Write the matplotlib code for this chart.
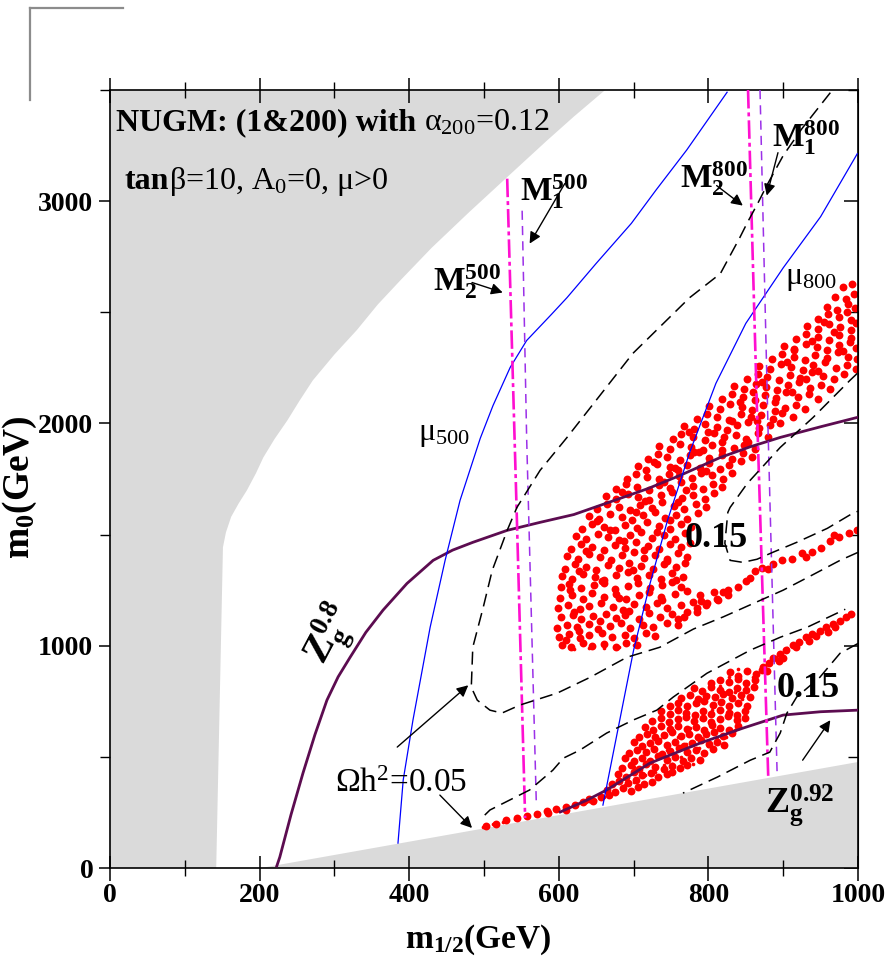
import matplotlib
matplotlib.use("Agg")
import matplotlib.pyplot as plt
from matplotlib.lines import Line2D
from matplotlib.transforms import offset_copy

plt.rcParams['font.family'] = ['Liberation Serif', 'DejaVu Serif']
plt.rcParams['mathtext.fontset'] = 'custom'
plt.rcParams['mathtext.rm'] = 'Liberation Serif'
plt.rcParams['mathtext.it'] = 'Liberation Serif'
plt.rcParams['mathtext.bf'] = 'Liberation Serif:bold'

# excluded regions (grey)
left_gray_x = [0, 142, 151, 155, 162, 172, 183, 195, 205, 220, 237, 253, 271, 300, 330, 358, 388,
               430, 480, 530, 584, 620, 662, 0]
left_gray_y = [0, 0, 1443, 1510, 1580, 1640, 1699, 1775, 1847, 1930, 2013, 2100, 2193, 2310, 2420,
               2535, 2643, 2790, 2950, 3105, 3272, 3380, 3500, 3500]
low_gray_x = [202, 1000, 1000]
low_gray_y = [0, 0, 478]

# Z_g contours
zg8_x = [223, 227, 242, 258, 274, 290, 305, 321, 342, 365, 397, 432, 458, 485, 531, 575, 620, 672,
         720, 762, 816, 856, 896, 950, 999]
zg8_y = [9, 49, 240, 427, 600, 755, 860, 948, 1060, 1160, 1280, 1384, 1430, 1465, 1519, 1555, 1590,
         1651, 1708, 1766, 1847, 1895, 1937, 1985, 2027]
zg92_x = [602, 638, 664, 722, 789, 846, 900, 950, 999]
zg92_y = [252, 306, 351, 472, 562, 629, 688, 703, 710]

# mu contours
mu500_x = [385, 392, 405, 428, 448, 468, 495, 512, 535, 557, 590, 611, 650, 697, 730, 771, 825]
mu500_y = [112, 396, 665, 1083, 1384, 1654, 1933, 2080, 2252, 2373, 2490, 2566, 2720, 2900, 3050,
           3230, 3490]
mu800_x = [659, 680, 700, 722, 745, 775, 810, 850, 900, 950, 999]
mu800_y = [283, 640, 980, 1280, 1560, 1870, 2180, 2450, 2700, 2930, 3213]

# gaugino mass contours
m2_500_x = [531, 544, 555]
m2_500_y = [3101, 1564, 225]
m1_500_x = [551, 557, 570]
m1_500_y = [2957, 1937, 283]
m2_800_x = [853, 866, 880]
m2_800_y = [3500, 1937, 409]
m1_800_x = [869, 880, 892]
m1_800_y = [3500, 1937, 409]

# relic density contours
om05a_x = [963, 925, 900, 878, 866, 852, 842, 816, 775, 699, 655, 611, 575, 544, 531, 511, 499, 485,
           483, 491, 508, 524, 548, 598, 642, 691, 735, 780, 820, 860, 900, 940, 976, 1000]
om05a_y = [3488, 3326, 3205, 3070, 2990, 2903, 2836, 2674, 2566, 2315, 2126, 1937, 1789, 1622, 1519,
           1339, 1173, 993, 813, 755, 710, 697, 733, 787, 858, 948, 993, 1075, 1130, 1190, 1250, 1320,
           1384, 1420]
om05b_x = [501, 508, 561, 592, 606, 628, 664, 699, 731, 753, 798, 856, 896, 932, 983]
om05b_y = [238, 261, 351, 440, 494, 530, 607, 665, 710, 769, 876, 980, 1038, 1083, 1164]
om15a_x = [999, 989, 940, 896, 852, 829, 826, 822, 829, 846, 865, 886, 918, 959, 993, 1000]
om15a_y = [2225, 2193, 2027, 1892, 1730, 1622, 1600, 1461, 1384, 1375, 1389, 1420, 1465, 1528, 1596, 1605]
om15b_x = [1000, 976, 949, 918, 905, 896, 882, 856, 812, 766]
om15b_y = [1010, 966, 858, 769, 697, 607, 521, 485, 409, 337]

# allowed points, upper region (crescent and band)
upper_pts = [
    (604, 1003), (616, 992), (633, 1011), (645, 998), (661, 1008), (677, 996), (690, 1014), (704, 1001),
    (600, 1040), (613, 1052), (629, 1035), (641, 1047), (658, 1058), (671, 1038), (688, 1050), (700, 1033), (717, 1055), (729, 1044),
    (598, 1079), (611, 1093), (624, 1084), (640, 1097), (652, 1076), (669, 1090), (683, 1101), (695, 1081), (712, 1094), (726, 1086), (744, 1103), (759, 1092),
    (603, 1128), (619, 1139), (630, 1121), (646, 1133), (663, 1144), (677, 1126), (689, 1138), (707, 1119), (721, 1147), (735, 1131), (752, 1142), (768, 1128), (785, 1150),
    (599, 1170), (612, 1184), (628, 1166), (641, 1179), (656, 1191), (673, 1173), (686, 1162), (700, 1187), (716, 1176), (731, 1193), (745, 1169), (763, 1183), (779, 1196), (797, 1185), (813, 1204),
    (601, 1216), (617, 1229), (632, 1212), (645, 1238), (660, 1221), (676, 1233), (690, 1208), (707, 1227), (720, 1241), (737, 1219), (755, 1232), (771, 1245), (789, 1226), (808, 1240), (826, 1252),
    (603, 1262), (614, 1276), (630, 1258), (647, 1271), (660, 1283), (675, 1256), (693, 1268), (706, 1281), (722, 1259), (738, 1274), (751, 1287), (764, 1266),
    (604, 1314), (618, 1299), (633, 1322), (648, 1307), (661, 1295), (676, 1318), (692, 1331), (705, 1304), (721, 1316), (737, 1299), (752, 1327), (766, 1311),
    (608, 1345), (621, 1368), (637, 1356), (650, 1341), (666, 1364), (680, 1350), (694, 1374), (710, 1358), (726, 1343), (741, 1366), (757, 1352), (769, 1371),
    (611, 1405), (626, 1390), (640, 1413), (655, 1398), (670, 1386), (685, 1409), (700, 1421), (714, 1395), (729, 1406), (745, 1390), (760, 1417), (772, 1400),
    (616, 1436), (630, 1458), (645, 1446), (660, 1431), (675, 1454), (689, 1440), (703, 1465), (719, 1449), (734, 1434), (748, 1457), (763, 1443), (776, 1462),
    (623, 1495), (637, 1479), (652, 1503), (666, 1488), (681, 1476), (695, 1499), (710, 1511), (724, 1485), (740, 1496), (755, 1480), (769, 1506),
    (631, 1526), (645, 1548), (660, 1536), (675, 1521), (689, 1544), (704, 1530), (718, 1555), (734, 1539), (748, 1524), (763, 1547), (777, 1533),
    (640, 1585), (654, 1569), (669, 1593), (684, 1578), (698, 1566), (713, 1589), (728, 1601), (742, 1575), (757, 1586), (772, 1570), (786, 1595),
    (651, 1616), (665, 1638), (680, 1626), (695, 1611), (709, 1634), (724, 1620), (738, 1645), (754, 1629), (768, 1614), (783, 1637), (797, 1623),
    (663, 1675), (677, 1659), (692, 1683), (706, 1668), (721, 1656), (736, 1679), (751, 1691), (765, 1665), (780, 1676), (795, 1660), (807, 1685),
    (676, 1706), (690, 1728), (705, 1716), (720, 1701), (734, 1724), (749, 1710), (763, 1735), (779, 1719), (793, 1704), (806, 1727), (818, 1713),
    (691, 1752), (703, 1771), (718, 1760), (734, 1748), (747, 1774), (761, 1762), (778, 1753), (790, 1779), (805, 1766), (819, 1750), (831, 1777),
    (706, 1810), (716, 1792), (731, 1818), (748, 1803), (760, 1789), (772, 1813), (789, 1800), (801, 1824), (815, 1795), (828, 1812), (843, 1829),
    (719, 1839), (733, 1862), (745, 1848), (762, 1836), (775, 1858), (787, 1871), (801, 1845), (818, 1857), (831, 1840), (846, 1866), (858, 1851),
    (734, 1900), (748, 1884), (762, 1908), (777, 1893), (793, 1880), (805, 1905), (818, 1917), (834, 1889), (847, 1903), (862, 1886),
    (753, 1929), (764, 1952), (779, 1941), (795, 1926), (808, 1955), (821, 1938), (837, 1947), (850, 1930), (866, 1958), (880, 1939),
    (767, 1990), (781, 1975), (796, 1999), (811, 1983), (825, 1972), (838, 1994), (853, 2006), (868, 1980), (883, 1991), (896, 2004),
    (785, 2021), (798, 2042), (812, 2030), (828, 2016), (843, 2044), (857, 2028), (870, 2039), (886, 2019), (899, 2048), (913, 2031),
    (801, 2080), (815, 2064), (829, 2088), (845, 2073), (858, 2061), (873, 2084), (889, 2096), (902, 2070), (917, 2082), (929, 2066),
    (818, 2110), (831, 2133), (846, 2121), (862, 2106), (876, 2129), (890, 2114), (904, 2140), (920, 2119), (934, 2131), (947, 2109),
    (834, 2170), (848, 2154), (863, 2178), (877, 2162), (892, 2151), (906, 2173), (921, 2185), (936, 2160), (951, 2171), (963, 2155),
    (851, 2200), (866, 2223), (879, 2211), (894, 2197), (909, 2220), (923, 2206), (938, 2231), (953, 2213), (968, 2199), (981, 2224),
    (868, 2260), (882, 2244), (897, 2268), (911, 2253), (926, 2241), (940, 2263), (956, 2276), (970, 2250), (985, 2261), (997, 2246),
    (885, 2291), (899, 2313), (914, 2300), (929, 2286), (943, 2309), (958, 2295), (973, 2320), (987, 2301), (998, 2290),
    (901, 2350), (915, 2334), (930, 2358), (945, 2342), (959, 2331), (974, 2355), (989, 2366), (997, 2339),
    (917, 2381), (931, 2403), (946, 2390), (961, 2376), (975, 2399), (990, 2385),
    (932, 2440), (946, 2424), (961, 2448), (976, 2432), (991, 2421), (997, 2452),
    (946, 2471), (960, 2493), (975, 2480), (990, 2466),
    (958, 2526), (972, 2512), (987, 2537), (996, 2520),
    (969, 2571), (984, 2558), (995, 2582), (980, 2613), (992, 2629),
]
extra_pts = [
    (609, 1025), (627, 1068), (655, 1112), (694, 1157), (738, 1204), (615, 1250), (658, 1293), (699, 1340),
    (744, 1382), (636, 1425), (687, 1469), (731, 1512), (651, 1560), (703, 1603), (760, 1648), (684, 1692),
    (741, 1738), (797, 1785), (727, 1828), (781, 1873), (853, 1918), (774, 1962), (832, 2010), (889, 2055),
    (842, 2098), (912, 2142), (871, 2188), (947, 2236), (905, 2278), (980, 2325), (939, 2370), (968, 2410),
    (985, 2500), (620, 1150), (681, 1215), (757, 1295), (627, 1336), (714, 1430), (668, 1520), (749, 1565),
    (715, 1650), (770, 1700), (755, 1800), (818, 1880), (800, 1960), (865, 2010), (860, 2140), (930, 2200),
    (915, 2330), (955, 2455),
]
# thin tail below the 0.15 curl
tail_pts = [
    (760, 1120), (772, 1150), (785, 1170), (798, 1190), (812, 1210), (826, 1228), (840, 1262), (850, 1290),
    (862, 1335), (872, 1350), (886, 1368), (898, 1385), (912, 1392), (925, 1415), (938, 1420), (950, 1440),
    (962, 1470), (975, 1490), (988, 1505), (998, 1520), (855, 1305), (880, 1345), (930, 1400), (968, 1500),
    (820, 1240), (790, 1200),
]
# lower region: streak, blob and tail
lower_pts = [
    (503, 191), (516, 199), (529, 214), (544, 223), (557, 236), (571, 243), (584, 258), (596, 264),
    (609, 276), (621, 283), (633, 297), (646, 303), (657, 318), (667, 329), (610, 262), (640, 312), (585, 248),
    (664, 352), (675, 341), (686, 360), (697, 347), (706, 364),
    (671, 379), (681, 392), (693, 383), (703, 396), (714, 377), (725, 389),
    (679, 424), (690, 411), (700, 430), (711, 418), (723, 428), (733, 409), (744, 423), (751, 433),
    (685, 449), (696, 462), (707, 447), (717, 466), (729, 455), (740, 444), (751, 460), (762, 451), (772, 464),
    (689, 497), (700, 483), (711, 494), (722, 481), (733, 502), (744, 488), (755, 498), (766, 480), (777, 495), (789, 486),
    (694, 519), (704, 533), (716, 522), (727, 536), (738, 515), (749, 528), (761, 539), (771, 520), (783, 531), (794, 517), (806, 535),
    (700, 566), (711, 551), (722, 563), (733, 572), (745, 555), (756, 567), (767, 549), (778, 561), (790, 574), (801, 556), (812, 568), (821, 553),
    (707, 590), (718, 603), (729, 588), (741, 600), (752, 611), (763, 592), (774, 605), (786, 589), (797, 601), (808, 613), (820, 594), (832, 606),
    (715, 636), (726, 622), (737, 639), (749, 627), (760, 641), (771, 624), (783, 634), (794, 619), (805, 642), (816, 630), (828, 623), (840, 637),
    (725, 660), (736, 673), (747, 658), (759, 670), (770, 681), (781, 662), (793, 675), (804, 659), (815, 672), (826, 684), (838, 664), (849, 676),
    (737, 705), (748, 692), (759, 711), (770, 698), (782, 690), (793, 708), (804, 695), (815, 712), (827, 699), (838, 688), (849, 706),
    (749, 730), (760, 744), (772, 728), (783, 741), (794, 752), (806, 733), (817, 746), (828, 730), (840, 743), (852, 731),
    (763, 765), (775, 779), (786, 762), (797, 776), (809, 768), (820, 781), (831, 763), (843, 777), (855, 769),
    (781, 811), (792, 797), (804, 815), (815, 802), (827, 793), (838, 812), (850, 800), (861, 816),
    (804, 833), (815, 847), (827, 838), (839, 851), (850, 834), (862, 845),
    (829, 880), (840, 866), (852, 884), (864, 871), (872, 889),
    (873, 903), (881, 922), (887, 944), (896, 962), (904, 981), (913, 1002), (921, 1018), (931, 1037),
    (939, 1053), (949, 1065), (957, 1084), (966, 1098), (976, 1112), (984, 1127), (991, 1142),
    (879, 888), (894, 933), (917, 992), (944, 1043), (969, 1083), (960, 1060), (935, 1020), (900, 945),
]
speck_pts = [
    (498, 186), (512, 196), (526, 206), (541, 221), (559, 234), (572, 246), (586, 257), (599, 266),
    (611, 276), (624, 286), (636, 296), (648, 305), (660, 318), (674, 338), (688, 372), (700, 388),
    (715, 420), (728, 430), (741, 462), (752, 470), (764, 498), (777, 505), (788, 540), (799, 548),
    (812, 580), (823, 590), (836, 620), (700, 455), (712, 500), (725, 540), (735, 580), (748, 620),
    (760, 660), (772, 700), (786, 740), (800, 780), (815, 820), (828, 860), (840, 895), (760, 590),
    (775, 630), (790, 670), (805, 710), (820, 750), (835, 790), (850, 830), (745, 530), (770, 560),
    (795, 600), (780, 470), (806, 540), (830, 700), (845, 760), (860, 860), (875, 910), (890, 950),
    (905, 990), (920, 1010), (935, 1045), (955, 1080), (975, 1115), (988, 1135),
    (620, 985), (640, 990), (660, 988), (680, 995), (700, 1005),
]

fig = plt.figure(figsize=(8.88, 9.68), dpi=100)
ax = fig.add_axes([110 / 888, 100 / 968, 748 / 888, 778 / 968])
ax.set_xlim(0, 1000)
ax.set_ylim(0, 3500)
renderer = fig.canvas.get_renderer()

gray = '#dadada'
ax.fill(left_gray_x, left_gray_y, color=gray, lw=0, zorder=1)
ax.fill(low_gray_x, low_gray_y, color=gray, lw=0, zorder=1)

big = upper_pts + extra_pts + tail_pts + lower_pts
bx, by = zip(*big)
sx, sy = zip(*speck_pts)
ax.scatter(bx, by, s=32, c='#ff0000', lw=0, zorder=2)
ax.scatter(sx, sy, s=7, c='#ff0000', lw=0, zorder=2)

zg_col = '#5c0c50'
ax.plot(zg8_x, zg8_y, color=zg_col, lw=2.0, zorder=4)
ax.plot(zg92_x, zg92_y, color=zg_col, lw=2.0, zorder=4)
ax.plot(mu500_x, mu500_y, color='#0000ff', lw=0.9, zorder=4)
ax.plot(mu800_x, mu800_y, color='#0000ff', lw=0.9, zorder=4)

for xs, ys in [(m2_500_x, m2_500_y), (m2_800_x, m2_800_y)]:
    ax.plot(xs, ys, color='#ff10d0', lw=1.9, dashes=(7, 1.5, 1.5, 1.5), zorder=4)
for xs, ys in [(m1_500_x, m1_500_y), (m1_800_x, m1_800_y)]:
    ax.plot(xs, ys, color='#9b30e8', lw=1.1, dashes=(6, 4), zorder=4)

for xs, ys in [(om05a_x, om05a_y), (om05b_x, om05b_y), (om15a_x, om15a_y), (om15b_x, om15b_y)]:
    ax.plot(xs, ys, color='k', lw=1.1, dashes=(8.5, 4.5), zorder=4)


def text_chain(x, y, pieces):
    # draw text pieces one after another on the same baseline
    shift = 0
    for s, kw in pieces:
        tr = offset_copy(ax.transData, fig=fig, x=shift, y=0, units='dots')
        t = ax.text(x, y, s, transform=tr, zorder=6, **kw)
        shift += t.get_window_extent(renderer).width


text_chain(8, 3317, [("NUGM: (1&200) with ", dict(fontsize=23, fontweight='bold')),
                     (r"$\alpha_{200}$=0.12", dict(fontsize=23))])
text_chain(20, 3056, [("tan", dict(fontsize=23, fontweight='bold')),
                      (r"β=10, A$_0$=0, μ>0", dict(fontsize=23))])

ax.text(548, 3002, r"$\mathbf{M_1^{500}}$", fontsize=24, zorder=6)
ax.text(432, 2598, r"$\mathbf{M_2^{500}}$", fontsize=24, zorder=6)
ax.text(762, 3061, r"$\mathbf{M_2^{800}}$", fontsize=24, zorder=6)
ax.text(885, 3245, r"$\mathbf{M_1^{800}}$", fontsize=24, zorder=6)
ax.text(412, 1924, r"μ$_{500}$", fontsize=23, zorder=6)
ax.text(902, 2629, r"μ$_{800}$", fontsize=23, zorder=6)
ax.text(296, 1050, r"$\mathbf{Z_g^{0.8}}$", fontsize=28, rotation=62, ha='center', va='center', zorder=6)
ax.text(876, 252, r"$\mathbf{Z_g^{0.92}}$", fontsize=26, zorder=6)
ax.text(811, 1483, "0.15", fontsize=26, fontweight='bold', ha='center', va='center', zorder=6)
ax.text(933, 809, "0.15", fontsize=26, fontweight='bold', ha='center', va='center', zorder=6)
ax.text(301, 342, r"Ωh$^2$=0.05", fontsize=24, zorder=6)

arrows = [
    ((608, 3079), (561, 2809)),
    ((484, 2634), (525, 2589)),
    ((811, 3070), (846, 2980)),
    ((893, 3218), (878, 3025)),
    ((384, 544), (479, 822)),
    ((441, 328), (484, 180)),
    ((926, 485), (963, 665)),
]
for start, end in arrows:
    ax.annotate("", xy=end, xytext=start,
                arrowprops=dict(arrowstyle='-|>', lw=1.0, color='k', mutation_scale=17,
                                shrinkA=0, shrinkB=0), zorder=6)

# axes and ticks
ax.set_xticks([0, 200, 400, 600, 800, 1000])
ax.set_xticks([100, 300, 500, 700, 900], minor=True)
ax.set_yticks([0, 1000, 2000, 3000])
ax.set_yticks([500, 1500, 2500, 3500], minor=True)
ax.tick_params(axis='x', which='major', direction='inout', length=18, width=1.1, top=True,
               labelsize=20, pad=2)
ax.tick_params(axis='x', which='minor', direction='inout', length=11, width=1.0, top=True)
ax.tick_params(axis='y', which='major', direction='out', length=8, width=1.1, right=False,
               labelsize=20, pad=4)
ax.tick_params(axis='y', which='minor', direction='out', length=7, width=1.0, right=False)
for lab in ax.get_xticklabels() + ax.get_yticklabels():
    lab.set_fontweight('bold')

sec = ax.secondary_yaxis('right')
sec.set_yticks([0, 1000, 2000, 3000])
sec.set_yticks([500, 1500, 2500, 3500], minor=True)
sec.tick_params(which='major', direction='in', length=10, width=1.1, labelright=False)
sec.tick_params(which='minor', direction='in', length=7, width=1.0)
sec.set_yticklabels([])

for sp in ax.spines.values():
    sp.set_linewidth(1.2)

fig.text(478 / 888, (968 - 948) / 968, r"$\mathbf{m_{1/2}(GeV)}$", fontsize=24,
         ha='center', va='baseline')
fig.text(29 / 888, (968 - 487) / 968, r"$\mathbf{m_0(GeV)}$", fontsize=27,
         rotation=90, rotation_mode='anchor', ha='center', va='baseline')

# stray frame corner at the top left
fig.add_artist(Line2D([30 / 888, 30 / 888], [(968 - 100) / 968, (968 - 8) / 968],
                      color='#8c8c8c', lw=1.6))
fig.add_artist(Line2D([30 / 888, 123 / 888], [(968 - 8) / 968, (968 - 8) / 968],
                      color='#8c8c8c', lw=1.6))

fig.savefig("out.png", dpi=100)
